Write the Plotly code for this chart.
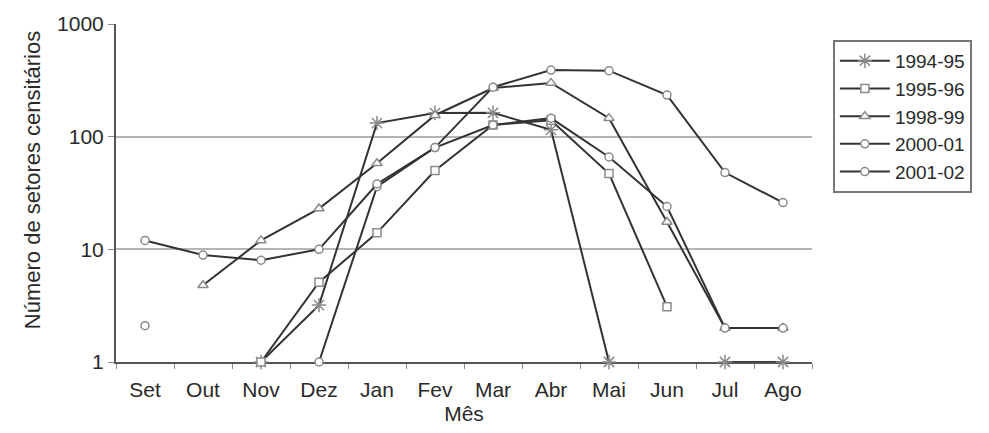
import plotly.graph_objects as go

months = ["Set", "Out", "Nov", "Dez", "Jan", "Fev", "Mar", "Abr", "Mai", "Jun", "Jul", "Ago"]

s_1994_95 = [None, None, 1, 3.2, 132, 162, 163, 115, 1, None, 1, 1]
s_1995_96 = [None, None, 1, 5.1, 14, 50, 127, 140, 47, 3.1, None, None]
s_1998_99 = [None, 4.8, 12, 23, 58, 155, 270, 300, 146, 17.5, 2, 2]
s_2000_01 = [2.1, None, None, 1, 36, 80, 275, 390, 385, 234, 48, 26]
s_2001_02 = [12, 8.9, 8, 10, 38, 80, 127, 146, 66, 24, 2, 2]

series_names = ["1994-95", "1995-96", "1998-99", "2000-01", "2001-02"]
series_vals = [s_1994_95, s_1995_96, s_1998_99, s_2000_01, s_2001_02]
symbols = ["asterisk-open", "square", "triangle-up", "circle", "circle"]
msizes = [12, 8, 9, 8, 8]

line_col = "#333333"
mark_col = "#8a8a8a"

fig = go.Figure()
for name, vals, sym, ms in zip(series_names, series_vals, symbols, msizes):
    fill = mark_col if sym == "asterisk-open" else "white"
    fig.add_trace(go.Scatter(
        x=months, y=vals, name=name, mode="lines+markers",
        line=dict(color=line_col, width=2),
        marker=dict(symbol=sym, size=ms, color=fill,
                    line=dict(color=mark_col, width=1.5)),
        connectgaps=False, cliponaxis=False,
    ))

fig.add_annotation(
    text="Número de setores censitários", textangle=-90,
    xref="paper", yref="paper", x=-0.1207, y=0.538,
    xanchor="center", yanchor="middle", showarrow=False,
    font=dict(size=22, color="#2a2a2a"),
)

fig.update_layout(
    width=981, height=425,
    margin=dict(l=108, r=177, t=16, b=71),
    paper_bgcolor="white", plot_bgcolor="white",
    font=dict(family="Liberation Sans, Arial, sans-serif", size=20, color="#2a2a2a"),
    showlegend=True,
    legend=dict(
        x=1.03, y=0.953, xanchor="left", yanchor="top",
        bordercolor="#777777", borderwidth=2, bgcolor="white",
        font=dict(size=19), itemwidth=50, tracegroupgap=0,
        entrywidth=140,
    ),
    xaxis=dict(
        type="category", categoryorder="array", categoryarray=months,
        range=[-0.5, 11.5], showgrid=False, showline=True, automargin=False,
        linecolor="#555555", linewidth=2, layer="below traces",
        ticks="outside", tickson="boundaries", ticklen=5, tickcolor="#888888",
        ticklabelstandoff=8,
        title=dict(text="Mês", font=dict(size=21), standoff=6),
        tickfont=dict(size=21),
    ),
    yaxis=dict(
        type="log", range=[0, 3], automargin=False,
        tickvals=[1, 10, 100, 1000], ticktext=["1", "10", "100", "1000"],
        showgrid=True, gridcolor="#b5b5b5", gridwidth=2,
        showline=True, linecolor="#555555", linewidth=2, layer="below traces",
        ticks="outside", ticklen=6, tickcolor="#888888",
        tickfont=dict(size=21),
    ),
)

fig.write_html("out.html")
